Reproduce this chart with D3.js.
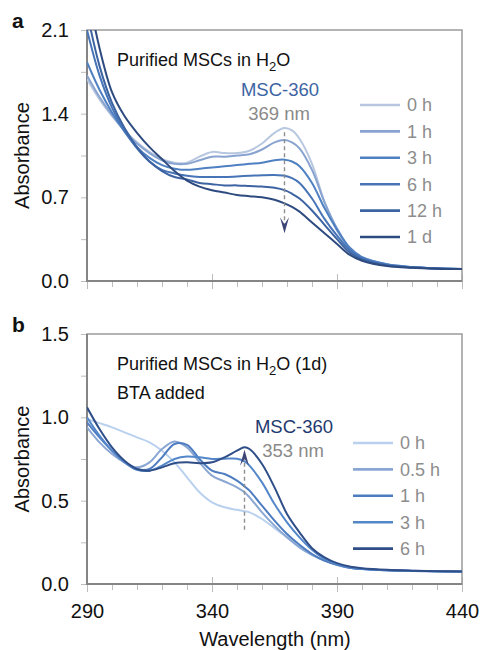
<!DOCTYPE html>
<html>
<head>
<meta charset="utf-8">
<script src="https://cdn.jsdelivr.net/npm/d3@7"></script>
<style>
  body { margin: 0; background: #fff; }
  svg { font-family: "Liberation Sans", Arial, Helvetica, sans-serif; }
</style>
</head>
<body>
<svg class="spectra" width="481" height="650"></svg>
<script>

// ---- panel a: purified MSCs in water ----
let wlTop = [290, 295, 300, 305, 310, 315, 320, 325, 330, 335, 340, 345, 350, 355,
             360, 365, 369, 372, 375, 380, 385, 390, 395, 400, 410, 420, 430, 440];
let top0h  = [1.69, 1.52, 1.38, 1.26, 1.16, 1.08, 1.02, 0.99, 0.99, 1.04, 1.08, 1.07, 1.07, 1.09,
              1.15, 1.24, 1.28, 1.26, 1.19, 0.98, 0.66, 0.42, 0.27, 0.19, 0.135, 0.115, 0.105, 0.10];
let top1h  = [1.72, 1.54, 1.39, 1.26, 1.15, 1.07, 1.01, 0.98, 0.98, 1.01, 1.04, 1.04, 1.05, 1.06,
              1.10, 1.16, 1.18, 1.16, 1.11, 0.93, 0.66, 0.44, 0.28, 0.20, 0.14, 0.117, 0.106, 0.10];
let top3h  = [1.83, 1.60, 1.41, 1.25, 1.12, 1.03, 0.97, 0.94, 0.93, 0.94, 0.95, 0.96, 0.97, 0.98,
              0.99, 1.01, 1.015, 1.00, 0.96, 0.82, 0.61, 0.43, 0.28, 0.20, 0.14, 0.117, 0.106, 0.10];
let top6h  = [2.10, 1.72, 1.45, 1.26, 1.11, 1.00, 0.93, 0.90, 0.88, 0.87, 0.87, 0.87, 0.875, 0.88,
              0.885, 0.887, 0.88, 0.86, 0.82, 0.69, 0.52, 0.38, 0.26, 0.19, 0.135, 0.115, 0.105, 0.10];
let top12h = [2.25, 1.80, 1.49, 1.28, 1.12, 1.00, 0.92, 0.87, 0.85, 0.82, 0.81, 0.80, 0.80, 0.795,
              0.79, 0.78, 0.76, 0.73, 0.69, 0.59, 0.47, 0.35, 0.24, 0.18, 0.13, 0.113, 0.104, 0.10];
let top1d  = [2.45, 1.95, 1.58, 1.38, 1.24, 1.12, 1.02, 0.92, 0.84, 0.79, 0.76, 0.74, 0.72, 0.71,
              0.70, 0.68, 0.65, 0.62, 0.58, 0.49, 0.40, 0.31, 0.22, 0.17, 0.125, 0.11, 0.103, 0.10];
let topLabels = ["0 h", "1 h", "3 h", "6 h", "12 h", "1 d"];
let topColors = ["#b8c7e0", "#88a3cf", "#4f80c2", "#4674b6", "#3c63a2", "#2e4b80"];
let topYTicks = [0, 0.7, 1.4, 2.1];

// ---- panel b: after BTA added ----
let wlBottom = [290, 295, 300, 305, 310, 315, 320, 325, 330, 335, 340, 345, 350, 353,
                355, 360, 365, 370, 375, 380, 385, 390, 395, 400, 410, 420, 430, 440];
let bot0h  = [0.99, 0.965, 0.94, 0.91, 0.88, 0.85, 0.80, 0.73, 0.64, 0.55, 0.49, 0.46, 0.445, 0.436,
              0.43, 0.39, 0.335, 0.28, 0.22, 0.175, 0.14, 0.115, 0.098, 0.09, 0.082, 0.078, 0.076, 0.075];
let bot05h = [0.94, 0.85, 0.78, 0.73, 0.70, 0.73, 0.81, 0.855, 0.82, 0.73, 0.65, 0.615, 0.58, 0.55,
              0.52, 0.43, 0.35, 0.28, 0.22, 0.175, 0.14, 0.115, 0.098, 0.09, 0.082, 0.078, 0.076, 0.075];
let bot1h  = [0.97, 0.88, 0.80, 0.735, 0.69, 0.69, 0.76, 0.84, 0.835, 0.75, 0.68, 0.66, 0.62, 0.586,
              0.56, 0.47, 0.38, 0.30, 0.235, 0.18, 0.14, 0.115, 0.098, 0.09, 0.082, 0.078, 0.076, 0.075];
let bot3h  = [1.00, 0.89, 0.80, 0.73, 0.685, 0.68, 0.71, 0.75, 0.765, 0.76, 0.75, 0.752, 0.752, 0.736,
              0.71, 0.61, 0.48, 0.37, 0.28, 0.205, 0.15, 0.12, 0.10, 0.092, 0.083, 0.079, 0.076, 0.075];
let bot6h  = [1.06, 0.93, 0.82, 0.74, 0.69, 0.68, 0.70, 0.725, 0.73, 0.725, 0.73, 0.76, 0.80, 0.82,
              0.81, 0.72, 0.58, 0.42, 0.31, 0.215, 0.16, 0.125, 0.105, 0.095, 0.085, 0.08, 0.077, 0.075];
let botLabels = ["0 h", "0.5 h", "1 h", "3 h", "6 h"];
let botColors = ["#b9d1ef", "#8aa6d3", "#4d7cc0", "#5487c9", "#2f4e87"];
let botYTicks = [0, 0.5, 1.0, 1.5];

let xTicks = [290, 340, 390, 440];

let svg = d3.select("body").select(".spectra");

function translate(x, y) {
  return 'translate(' + x + ',' + y + ')';
}

let drawPanel = function(p)
{
  let x = d3.scaleLinear().domain([290, 440]).range([87, 462]);
  let y = d3.scaleLinear().domain([0, p.yMax]).range([p.bottom, p.top]);

  let g = svg.append("g").attr("id", p.id);

  // clip so the steep start does not leak above the box
  g.append("clipPath").attr("id", p.id + "-clip")
    .append("rect")
    .attr("x", x(290)).attr("y", y(p.yMax))
    .attr("width", x(440) - x(290)).attr("height", y(0) - y(p.yMax));

  // y axis: ticks every half step, labels on main values
  let step = p.yTicks[1] - p.yTicks[0];
  let yMinor = d3.range(0, p.yMax + 1e-6, step / 2);
  let yAxis = d3.axisLeft(y).tickValues(yMinor).tickSize(6).tickPadding(12)
    .tickFormat(d => p.yTicks.some(t => Math.abs(t - d) < 1e-6) ? p.fmt(d) : "");
  let yGroup = g.append("g").attr("transform", translate(x(290), 0)).call(yAxis);
  yGroup.select(".domain").remove();
  yGroup.selectAll("line").attr("stroke", "#bdbdbd");
  yGroup.selectAll("text").attr("fill", "#111").style("font-size", "20px");

  // x axis: minor every 10 nm, long ticks on the 50 nm marks
  let xAxis = d3.axisBottom(x).tickValues(d3.range(290, 441, 10)).tickSize(6)
    .tickPadding(14)
    .tickFormat(d => (p.xLabels && xTicks.includes(d)) ? d : "");
  let xGroup = g.append("g").attr("transform", translate(0, y(0))).call(xAxis);
  xGroup.select(".domain").remove();
  xGroup.selectAll("line").attr("stroke", "#bdbdbd")
    .filter(d => xTicks.includes(d)).attr("y1", -7).attr("y2", 8);
  xGroup.selectAll("text").attr("fill", "#111").style("font-size", "20px");

  // frame
  g.append("rect")
    .attr("x", x(290)).attr("y", y(p.yMax))
    .attr("width", x(440) - x(290)).attr("height", y(0) - y(p.yMax))
    .attr("fill", "none").attr("stroke", "#9a9a9a").attr("stroke-width", 1.5);
  g.append("path")
    .attr("d", "M" + x(290) + "," + y(p.yMax) + "V" + y(0) + "H" + x(440))
    .attr("fill", "none").attr("stroke", "#858585").attr("stroke-width", 2);

  // spectra
  let line = d3.line()
    .x((d, i) => x(p.wl[i]))
    .y(d => y(d))
    .curve(d3.curveCatmullRom.alpha(0.5));

  g.append("g").attr("clip-path", "url(#" + p.id + "-clip)")
    .selectAll("path")
    .data(p.series)
    .join("path")
      .attr("d", d => line(d))
      .attr("fill", "none")
      .attr("stroke", (d, i) => p.colors[i])
      .attr("stroke-width", 2)
      .attr("stroke-linejoin", "round");

  // legend
  let legend = g.selectAll(".legend")
    .data(p.labels)
    .join("g")
      .attr("class", "legend")
      .attr("transform", (d, i) => translate(p.legX, p.legY + i * 26.4));
  legend.append("line")
    .attr("x1", 0).attr("x2", 40)
    .attr("stroke", (d, i) => p.colors[i])
    .attr("stroke-width", 2.6);
  legend.append("text")
    .attr("x", 47).attr("dy", "0.36em")
    .attr("fill", "#8d8d8d")
    .style("font-size", "18px")
    .text(d => d);

  // y label
  g.append("text")
    .attr("transform", translate(29, (y(0) + y(p.yMax)) / 2) + " rotate(-90)")
    .attr("text-anchor", "middle")
    .attr("fill", "#111")
    .style("font-size", "20px")
    .text("Absorbance");

  // panel letter
  g.append("text")
    .attr("x", 12).attr("y", p.top - 2)
    .attr("font-weight", "bold")
    .style("font-size", "21px")
    .attr("fill", "#111")
    .text(p.letter);

  // note text with H2O subscript
  p.notes.forEach(function(n, i) {
    let t = g.append("text")
      .attr("x", 117).attr("y", p.noteY + i * 29)
      .attr("fill", "#111")
      .style("font-size", "18px");
    if (n.sub) {
      t.append("tspan").text(n.before);
      t.append("tspan").attr("dy", 5).style("font-size", "13px").text("2");
      t.append("tspan").attr("dy", -5).text(n.after);
    } else {
      t.text(n.before);
    }
  });

  // peak annotation and dashed arrow
  g.append("text")
    .attr("x", p.annX).attr("y", p.annY)
    .attr("text-anchor", "middle")
    .attr("fill", p.annColor)
    .style("font-size", "18.5px")
    .text("MSC-360");
  g.append("text")
    .attr("x", p.annX - 1).attr("y", p.annY + 24)
    .attr("text-anchor", "middle")
    .attr("fill", "#8a8a8a")
    .style("font-size", "18.5px")
    .text(p.peak + " nm");

  let ax = x(p.peak);
  let y0 = y(p.arrowFrom), y1 = y(p.arrowTo);
  let dir = y1 > y0 ? 1 : -1;
  g.append("line")
    .attr("x1", ax).attr("x2", ax)
    .attr("y1", y0).attr("y2", y1 - dir * 6)
    .attr("stroke", "#8f8f8f")
    .attr("stroke-width", 1.4)
    .attr("stroke-dasharray", "4,3");
  g.append("path")
    .attr("d", "M" + ax + "," + y1 +
               "L" + (ax - 4.5) + "," + (y1 - dir * 16) +
               "L" + ax + "," + (y1 - dir * 9) +
               "L" + (ax + 4.5) + "," + (y1 - dir * 16) + "Z")
    .attr("fill", "#3d4476");
};

drawPanel({
  id: "panel-a", letter: "a", top: 30, bottom: 281, yMax: 2.1,
  yTicks: topYTicks, fmt: d3.format(".1f"), xLabels: false,
  wl: wlTop, series: [top0h, top1h, top3h, top6h, top12h, top1d],
  labels: topLabels, colors: topColors, legX: 360, legY: 105,
  notes: [{ sub: true, before: "Purified MSCs in H", after: "O" }],
  noteY: 66,
  annX: 280, annY: 96, annColor: "#3d65a3",
  peak: 369, arrowFrom: 1.245, arrowTo: 0.40
});

drawPanel({
  id: "panel-b", letter: "b", top: 334, bottom: 584, yMax: 1.5,
  yTicks: botYTicks, fmt: d3.format(".1f"), xLabels: true,
  wl: wlBottom, series: [bot0h, bot05h, bot1h, bot3h, bot6h],
  labels: botLabels, colors: botColors, legX: 353, legY: 443,
  notes: [{ sub: true, before: "Purified MSCs in H", after: "O (1d)" },
          { sub: false, before: "BTA added" }],
  noteY: 370,
  annX: 294, annY: 433, annColor: "#1e3a6e",
  peak: 353, arrowFrom: 0.326, arrowTo: 0.806
});

// x label
svg.append("text")
  .attr("x", 275).attr("y", 646)
  .attr("text-anchor", "middle")
  .attr("fill", "#111")
  .style("font-size", "20px")
  .text("Wavelength (nm)");

</script>
</body>
</html>
